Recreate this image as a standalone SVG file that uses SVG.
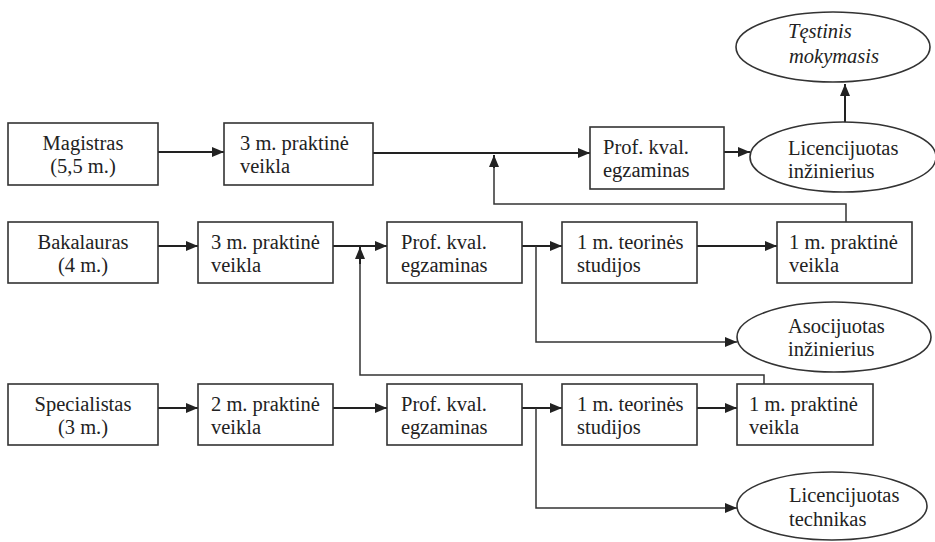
<svg xmlns="http://www.w3.org/2000/svg" width="935" height="542" viewBox="0 0 935 542">
<style>
.b{fill:#fff;stroke:#333;stroke-width:1.6}
.t{font-family:"Liberation Serif","Times New Roman",serif;font-size:20.5px;fill:#222}
.i{font-style:italic}
.c{fill:none;stroke:#222;stroke-width:2}
.r{fill:none;stroke:#333;stroke-width:1.5}
</style>
<defs>
<marker id="a" viewBox="0 0 12 10" refX="12" refY="5" markerWidth="12" markerHeight="10" markerUnits="userSpaceOnUse" orient="auto">
<path d="M0,0L12,5L0,10z" fill="#222"/>
</marker>
</defs>
<rect width="935" height="542" fill="#fff"/>
<g id="connectors">
<path class="c" d="M158,152H224" marker-end="url(#a)"/>
<path class="c" d="M373,153H590" marker-end="url(#a)"/>
<path class="c" d="M724,152H750" marker-end="url(#a)"/>
<path class="c" d="M845,122V84" marker-end="url(#a)"/>
<path class="r" d="M846,222V204H494V167"/>
<path class="c" d="M494,168V155" marker-end="url(#a)"/>
<path class="c" d="M158,246H198" marker-end="url(#a)"/>
<path class="c" d="M333,246H387" marker-end="url(#a)"/>
<path class="c" d="M522,246H562" marker-end="url(#a)"/>
<path class="c" d="M697,246H777" marker-end="url(#a)"/>
<path class="r" d="M536,246V342H737" marker-end="url(#a)"/>
<path class="r" d="M764,384V375H360V262"/>
<path class="c" d="M360,264V247" marker-end="url(#a)"/>
<path class="c" d="M158,408H198" marker-end="url(#a)"/>
<path class="c" d="M333,408H387" marker-end="url(#a)"/>
<path class="c" d="M522,408H562" marker-end="url(#a)"/>
<path class="c" d="M697,408H737" marker-end="url(#a)"/>
<path class="r" d="M536,408V508H737" marker-end="url(#a)"/>
</g>
<g id="magistras"><rect class="b" x="8" y="123" width="150" height="62"/><text class="t" text-anchor="middle"><tspan x="83" y="150">Magistras</tspan><tspan x="83" y="173">(5,5 m.)</tspan></text></g>
<g id="m-praktika"><rect class="b" x="224" y="123" width="149" height="62"/><text class="t"><tspan x="240" y="150">3 m. praktinė</tspan><tspan x="240" y="173">veikla</tspan></text></g>
<g id="m-egzaminas"><rect class="b" x="590" y="127" width="134" height="62"/><text class="t"><tspan x="603" y="154">Prof. kval.</tspan><tspan x="603" y="177">egzaminas</tspan></text></g>
<g id="lic-inzinierius"><ellipse class="b" cx="843" cy="157" rx="93" ry="35"/><text class="t"><tspan x="788" y="155">Licencijuotas</tspan><tspan x="788" y="178">inžinierius</tspan></text></g>
<g id="testinis"><ellipse class="b" cx="833" cy="47" rx="97" ry="35"/><text class="t i"><tspan x="788" y="38">Tęstinis</tspan><tspan x="789" y="63">mokymasis</tspan></text></g>
<g id="bakalauras"><rect class="b" x="8" y="222" width="150" height="61"/><text class="t" text-anchor="middle"><tspan x="83" y="248.5">Bakalauras</tspan><tspan x="83" y="271.5">(4 m.)</tspan></text></g>
<g id="b-praktika"><rect class="b" x="198" y="222" width="135" height="61"/><text class="t"><tspan x="211" y="248.5">3 m. praktinė</tspan><tspan x="211" y="271.5">veikla</tspan></text></g>
<g id="b-egzaminas"><rect class="b" x="387" y="222" width="135" height="61"/><text class="t"><tspan x="401" y="248.5">Prof. kval.</tspan><tspan x="401" y="271.5">egzaminas</tspan></text></g>
<g id="b-teorija"><rect class="b" x="562" y="222" width="135" height="61"/><text class="t"><tspan x="577" y="248.5">1 m. teorinės</tspan><tspan x="577" y="271.5">studijos</tspan></text></g>
<g id="b-praktika2"><rect class="b" x="777" y="222" width="135" height="61"/><text class="t"><tspan x="789" y="248.5">1 m. praktinė</tspan><tspan x="789" y="271.5">veikla</tspan></text></g>
<g id="asocijuotas"><ellipse class="b" cx="834" cy="337" rx="97" ry="35"/><text class="t"><tspan x="788" y="333">Asocijuotas</tspan><tspan x="788" y="356">inžinierius</tspan></text></g>
<g id="specialistas"><rect class="b" x="8" y="384" width="150" height="61"/><text class="t" text-anchor="middle"><tspan x="83" y="410.5">Specialistas</tspan><tspan x="83" y="433.5">(3 m.)</tspan></text></g>
<g id="s-praktika"><rect class="b" x="198" y="384" width="135" height="61"/><text class="t"><tspan x="211" y="410.5">2 m. praktinė</tspan><tspan x="211" y="433.5">veikla</tspan></text></g>
<g id="s-egzaminas"><rect class="b" x="387" y="384" width="135" height="61"/><text class="t"><tspan x="401" y="410.5">Prof. kval.</tspan><tspan x="401" y="433.5">egzaminas</tspan></text></g>
<g id="s-teorija"><rect class="b" x="562" y="384" width="135" height="61"/><text class="t"><tspan x="577" y="410.5">1 m. teorinės</tspan><tspan x="577" y="433.5">studijos</tspan></text></g>
<g id="s-praktika2"><rect class="b" x="737" y="384" width="136" height="61"/><text class="t"><tspan x="749" y="410.5">1 m. praktinė</tspan><tspan x="749" y="433.5">veikla</tspan></text></g>
<g id="lic-technikas"><ellipse class="b" cx="832" cy="506" rx="95" ry="34"/><text class="t"><tspan x="789" y="502">Licencijuotas</tspan><tspan x="789" y="526">technikas</tspan></text></g>
</svg>
